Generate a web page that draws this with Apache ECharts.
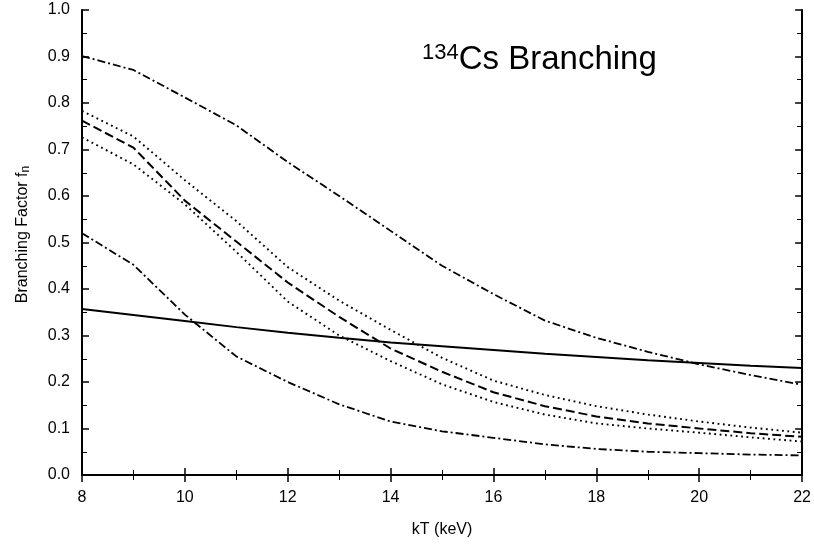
<!DOCTYPE html>
<html>
<head>
<meta charset="utf-8">
<script src="https://cdn.jsdelivr.net/npm/echarts@6/dist/echarts.min.js"></script>
<style>
  html, body { margin: 0; padding: 0; background: #fff; }
  #chart { width: 814px; height: 549px; }
</style>
</head>
<body>
<div id="chart"></div>
<script>
// Temperature grid (keV)
const kT = [8, 9, 10, 11, 12, 13, 14, 15, 16, 17, 18, 19, 20, 21, 22];

// Branching factor curves
const fSolid      = [0.357, 0.344, 0.331, 0.318, 0.306, 0.295, 0.285, 0.277, 0.269, 0.261, 0.254, 0.247, 0.241, 0.235, 0.230];
const fUpperDD    = [0.901, 0.871, 0.812, 0.752, 0.673, 0.600, 0.525, 0.450, 0.389, 0.332, 0.295, 0.265, 0.238, 0.215, 0.194];
const fLowerDD    = [0.520, 0.452, 0.345, 0.255, 0.200, 0.152, 0.115, 0.094, 0.080, 0.066, 0.056, 0.050, 0.047, 0.044, 0.042];
const fDashed     = [0.762, 0.704, 0.590, 0.502, 0.414, 0.340, 0.272, 0.222, 0.178, 0.148, 0.126, 0.111, 0.100, 0.090, 0.082];
const fDotUpper   = [0.783, 0.728, 0.634, 0.546, 0.447, 0.375, 0.312, 0.252, 0.203, 0.172, 0.148, 0.130, 0.115, 0.102, 0.091];
const fDotLower   = [0.726, 0.668, 0.582, 0.480, 0.373, 0.300, 0.245, 0.195, 0.157, 0.130, 0.111, 0.100, 0.091, 0.081, 0.072];

const pairs = ys => kT.map((x, i) => [x, ys[i]]);
const FONT = 'Liberation Sans, Arial, sans-serif';

const chart = echarts.init(document.getElementById('chart'), null, { renderer: 'canvas' });

function line(name, ys, type, width, cap) {
  return {
    name, type: 'line', data: pairs(ys), showSymbol: false, smooth: false,
    lineStyle: { color: '#000', width: width, type: type, cap: cap || 'butt' },
    z: 3
  };
}

const axisCommon = {
  axisLine: { show: true, lineStyle: { color: '#000', width: 2 } },
  axisTick: { show: true, inside: true, length: 7, lineStyle: { color: '#000', width: 1.5 } },
  minorTick: { show: true, splitNumber: 2, length: 5, lineStyle: { color: '#000', width: 1 } },
  splitLine: { show: false },
  axisLabel: { color: '#000', fontFamily: FONT, fontSize: 16 }
};

chart.setOption({
  backgroundColor: '#fff',
  animation: false,
  grid: { left: 82, right: 10, top: 10, bottom: 74, containLabel: false },
  xAxis: [
    Object.assign({}, axisCommon, {
      type: 'value', min: 8, max: 22, interval: 2,
      name: 'kT (keV)', nameLocation: 'middle', nameGap: 47,
      nameTextStyle: { color: '#000', fontFamily: FONT, fontSize: 16 },
      axisLabel: Object.assign({}, axisCommon.axisLabel, { margin: 15 })
    }),
    Object.assign({}, axisCommon, {
      type: 'value', min: 8, max: 22, interval: 2, position: 'top',
      axisLabel: { show: false }
    })
  ],
  yAxis: [
    Object.assign({}, axisCommon, {
      type: 'value', min: 0, max: 1, interval: 0.1,
      name: '{a|Branching Factor f}{s|n}', nameLocation: 'middle', nameGap: 50, nameRotate: 90,
      nameTextStyle: {
        padding: [0, 0, 0, 16],
        rich: {
          a: { color: '#000', fontFamily: FONT, fontSize: 16 },
          s: { color: '#000', fontFamily: FONT, fontSize: 12, verticalAlign: 'bottom', padding: [7, 0, 0, 0] }
        }
      },
      axisLabel: Object.assign({}, axisCommon.axisLabel, {
        margin: 12,
        formatter: v => v.toFixed(1)
      })
    }),
    Object.assign({}, axisCommon, {
      type: 'value', min: 0, max: 1, interval: 0.1, position: 'right',
      axisLabel: { show: false }
    })
  ],
  graphic: [{
    type: 'text', left: 422, top: 42, z: 10,
    style: {
      text: '{sup|134}{main|Cs Branching}',
      rich: {
        sup: { fontFamily: FONT, fontSize: 22, fill: '#000', verticalAlign: 'top', padding: [0, 0, 14, 0] },
        main: { fontFamily: FONT, fontSize: 33, fill: '#000' }
      }
    }
  }],
  series: [
    line('solid', fSolid, 'solid', 2),
    line('upper dash-dot', fUpperDD, [8, 3, 2, 3], 1.8),
    line('lower dash-dot', fLowerDD, [8, 3, 2, 3], 1.8),
    line('dashed', fDashed, [9, 4], 2),
    line('dotted upper', fDotUpper, [1.8, 3.6], 1.9),
    line('dotted lower', fDotLower, [1.8, 3.6], 1.9)
  ]
});
</script>
</body>
</html>
